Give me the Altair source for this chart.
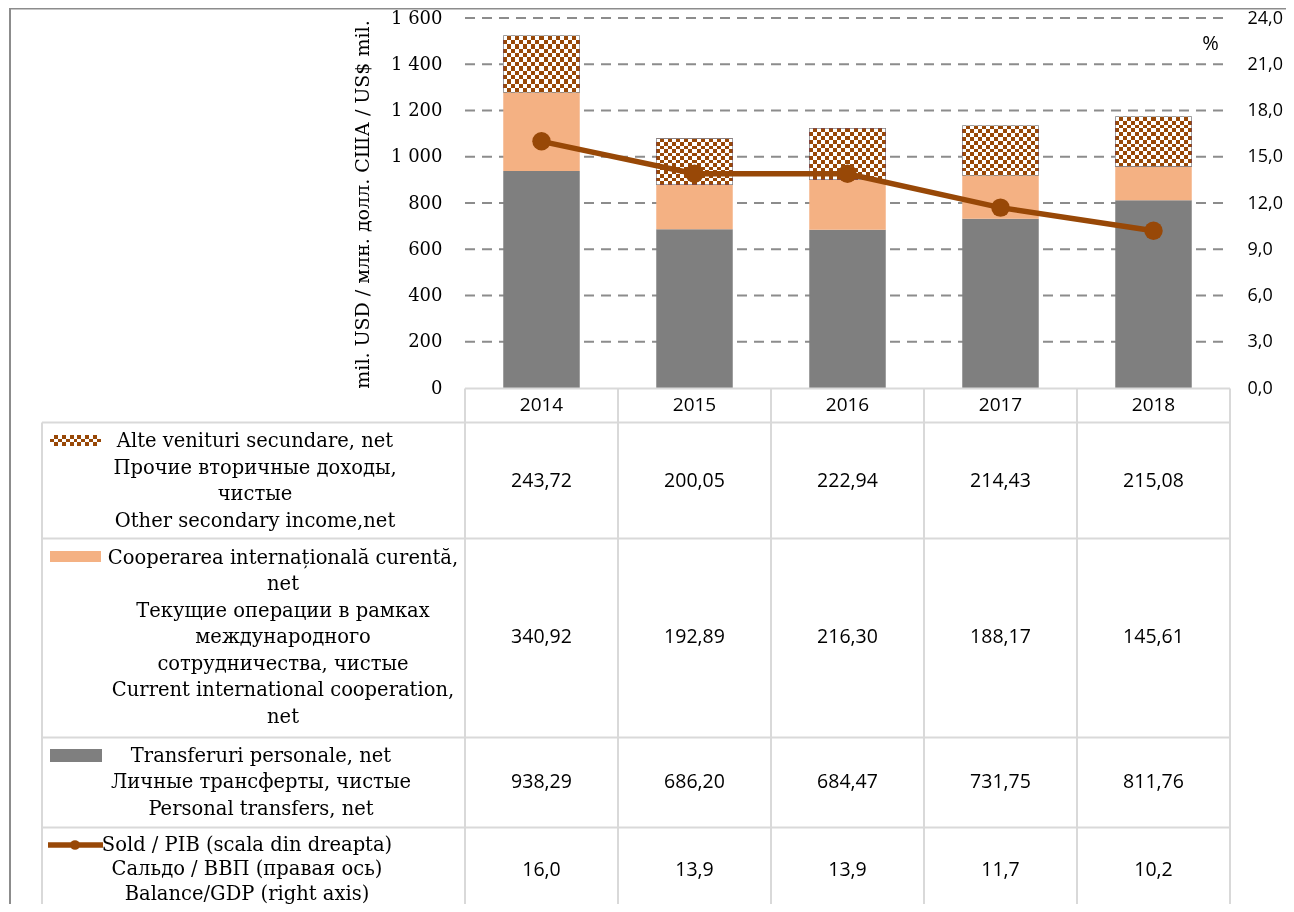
import altair as alt
import pandas as pd

# ---------------- data ----------------
YEARS = ["2014", "2015", "2016", "2017", "2018"]
OTHER_INCOME = [243.72, 200.05, 222.94, 214.43, 215.08]
INTL_COOP = [340.92, 192.89, 216.30, 188.17, 145.61]
PERSONAL = [938.29, 686.20, 684.47, 731.75, 811.76]
BALANCE_GDP = [16.0, 13.9, 13.9, 11.7, 10.2]
LEFT_TICKS = [0, 200, 400, 600, 800, 1000, 1200, 1400, 1600]
RIGHT_TICKS = [0, 3, 6, 9, 12, 15, 18, 21, 24]

LABEL_OTHER = ["Alte venituri secundare, net", "Прочие вторичные доходы,", "чистые",
               "Other secondary income,net"]
LABEL_COOP = ["Cooperarea internațională curentă,", "net", "Текущие операции в рамках",
              "международного", "сотрудничества, чистые", "Current international cooperation,", "net"]
LABEL_PERSONAL = ["Transferuri personale, net", "Личные трансферты, чистые", "Personal transfers, net"]
LABEL_BALANCE = ["Sold / PIB (scala din dreapta)", "Сальдо / ВВП (правая ось)", "Balance/GDP (right axis)"]
Y_TITLE = "mil. USD / млн. долл. США / US$ mil."

# ---------------- style / layout ----------------
GRAY = "#7F7F7F"
PEACH = "#F4B183"
BROWN = "#984807"
GRID = "#8C8C8C"
TABLE = "#D9D9D9"
SERIF = "DejaVu Serif"
SANS = "Open Sans"

W, H = 1278, 896
LH = 26.5


def px(v):  # page pixel -> chart pixel
    return v - 8


X0, X1 = px(465), px(1230)
Y0, Y1 = px(388), px(18)
STEP = (X1 - X0) / len(YEARS)

rows = []
for i, yr in enumerate(YEARS):
    for order, (key, vals) in enumerate([("personal", PERSONAL), ("coop", INTL_COOP), ("other", OTHER_INCOME)]):
        rows.append({"year": yr, "series": key, "order": order, "value": vals[i]})
bars_df = pd.DataFrame(rows)
bal_df = pd.DataFrame({"year": YEARS, "balance": BALANCE_GDP})
grid_df = pd.DataFrame({"v": LEFT_TICKS[1:]})
dummy = pd.DataFrame({"k": [0]})

XS = alt.Scale(type="band", domain=YEARS, range=[X0, X1], paddingInner=0.5, paddingOuter=0.25)
YL = alt.Scale(domain=[0, 1600], range=[Y0, Y1], nice=False, zero=True)
YR = alt.Scale(domain=[0, 24], range=[Y0, Y1], nice=False, zero=True)

LEFT_AXIS = alt.Axis(orient="left", offset=-X0, values=LEFT_TICKS,
                     labelExpr="replace(format(datum.value, ','), ',', ' ')",
                     grid=False, domain=False, ticks=False, labelPadding=23,
                     labelFont=SERIF, labelFontSize=18, labelColor="#000000",
                     title=Y_TITLE, titleFont=SERIF, titleFontSize=19, titleFontWeight="normal",
                     titleColor="#000000", titleAngle=270, titleX=-97, titleY=196,
                     titleBaseline="alphabetic", titleAlign="center")
RIGHT_AXIS = alt.Axis(orient="right", offset=-(W - X1), values=RIGHT_TICKS,
                      labelExpr="replace(format(datum.value, '.1f'), '.', ',')",
                      grid=False, domain=False, ticks=False, labelPadding=17,
                      labelFont=SANS, labelFontSize=18, labelColor="#000000",
                      title="%", titleFont=SANS, titleFontSize=20, titleFontWeight="normal",
                      titleColor="#000000", titleAngle=0, titleX=-20, titleY=35,
                      titleBaseline="middle", titleAlign="center")


def xenc():
    return alt.X("year:N", scale=XS, axis=None)


def stripes(n, c1, c2, horizontal):
    stops = []
    for i in range(n):
        c = c1 if i % 2 == 0 else c2
        stops.append(alt.GradientStop(offset=i / n, color=c))
        stops.append(alt.GradientStop(offset=(i + 1) / n, color=c))
    if horizontal:
        return alt.LinearGradient(gradient="linear", stops=stops, x1=0, x2=0, y1=0, y2=1)
    return alt.LinearGradient(gradient="linear", stops=stops, x1=0, x2=1, y1=0, y2=0)


# ---------------- bars ----------------
stacked = alt.Chart(bars_df).transform_stack(
    stack="value", groupby=["year"], as_=["y0", "y1"],
    sort=[alt.SortField(field="order", order="ascending")])

grid = alt.Chart(grid_df).mark_rule(color=GRID, strokeWidth=2, strokeDash=[10, 7]).encode(
    y=alt.Y("v:Q", scale=YL, axis=LEFT_AXIS), x=alt.value(X0), x2=alt.value(X1))

base_bars = stacked.transform_filter("datum.series != 'other'").mark_bar().encode(
    x=xenc(), y=alt.Y("y0:Q", scale=YL, axis=LEFT_AXIS), y2="y1:Q",
    color=alt.Color("series:N", scale=alt.Scale(domain=["personal", "coop"], range=[GRAY, PEACH]),
                    legend=None))

other = stacked.transform_filter("datum.series == 'other'")
chk_a = other.mark_bar(fill=stripes(19, "#000000", "#ffffff", False)).encode(
    x=xenc(), y=alt.Y("y0:Q", scale=YL, axis=LEFT_AXIS), y2="y1:Q")
chk_b = other.mark_bar(fill=stripes(13, "#ffffff", "#000000", True), blend="difference").encode(
    x=xenc(), y=alt.Y("y0:Q", scale=YL, axis=LEFT_AXIS), y2="y1:Q")
chk_c = other.mark_bar(fill=BROWN, blend="lighten").encode(
    x=xenc(), y=alt.Y("y0:Q", scale=YL, axis=LEFT_AXIS), y2="y1:Q")

left = alt.layer(grid, base_bars, chk_a, chk_b, chk_c)

# ---------------- line ----------------
line = alt.Chart(bal_df).mark_line(color=BROWN, strokeWidth=5.5).encode(
    x=xenc(), y=alt.Y("balance:Q", scale=YR, axis=RIGHT_AXIS))
dots = alt.Chart(bal_df).mark_circle(color=BROWN, size=340, opacity=1).encode(
    x=xenc(), y=alt.Y("balance:Q", scale=YR, axis=RIGHT_AXIS))
right = alt.layer(line, dots)

# ---------------- table ----------------
layers = []
T_TOP, R1, R2, R3, R4, T_BOT = px(388.5), px(422.5), px(538.5), px(737.5), px(827.5), H
for yy in [R1, R2, R3, R4]:
    layers.append(alt.Chart(dummy).mark_rule(color=TABLE, strokeWidth=2).encode(
        x=alt.value(px(42)), x2=alt.value(X1), y=alt.value(yy)))
layers.append(alt.Chart(dummy).mark_rule(color=TABLE, strokeWidth=2).encode(
    x=alt.value(X0), x2=alt.value(X1), y=alt.value(T_TOP)))
layers.append(alt.Chart(dummy).mark_rule(color=TABLE, strokeWidth=2).encode(
    x=alt.value(px(42)), y=alt.value(R1), y2=alt.value(T_BOT)))
for i in range(len(YEARS) + 1):
    layers.append(alt.Chart(dummy).mark_rule(color=TABLE, strokeWidth=2).encode(
        x=alt.value(X0 + i * STEP), y=alt.value(T_TOP), y2=alt.value(T_BOT)))

# outer chart border
layers.append(alt.Chart(dummy).mark_rule(color=GRID, strokeWidth=2).encode(
    x=alt.value(2), y=alt.value(0), y2=alt.value(H)))
layers.append(alt.Chart(dummy).mark_rule(color=GRID, strokeWidth=2).encode(
    x=alt.value(2), x2=alt.value(W), y=alt.value(0.5)))

# header years
layers.append(alt.Chart(bal_df).mark_text(font=SANS, fontSize=19, color="#000000").encode(
    x=xenc(), y=alt.value(px(405)), text="year:N"))

# numbers
row_y = {"other": px(481), "coop": px(637), "personal": px(782)}
for key, yy in row_y.items():
    layers.append(stacked.transform_filter(f"datum.series == '{key}'").transform_calculate(
        lab="replace(format(datum.value, '.2f'), '.', ',')").mark_text(
        font=SANS, fontSize=19.5, color="#000000").encode(x=xenc(), y=alt.value(yy), text="lab:N"))
layers.append(alt.Chart(bal_df).transform_calculate(
    lab="replace(format(datum.balance, '.1f'), '.', ',')").mark_text(
    font=SANS, fontSize=19.5, color="#000000").encode(x=xenc(), y=alt.value(px(870)), text="lab:N"))

# row labels (multi-line, block centred on row)
for lines, cx, cy, lh in [(LABEL_OTHER, 255, 481, LH), (LABEL_COOP, 283, 637, LH),
                          (LABEL_PERSONAL, 261, 782, LH), (LABEL_BALANCE, 247, 869, 24.5)]:
    first = cy - (len(lines) - 1) / 2 * lh
    layers.append(alt.Chart(dummy).mark_text(font=SERIF, fontSize=19.5, lineHeight=lh,
                                             align="center", baseline="middle", color="#000000").encode(
        x=alt.value(px(cx)), y=alt.value(px(first)), text=alt.value(lines)))

# legend keys
sw_x0, sw_x1 = px(50), px(101)
layers.append(alt.Chart(dummy).mark_rect(fill=stripes(13, "#000000", "#ffffff", False)).encode(
    x=alt.value(sw_x0), x2=alt.value(sw_x1), y=alt.value(px(435)), y2=alt.value(px(446))))
layers.append(alt.Chart(dummy).mark_rect(fill=stripes(3, "#ffffff", "#000000", True), blend="difference").encode(
    x=alt.value(sw_x0), x2=alt.value(sw_x1), y=alt.value(px(435)), y2=alt.value(px(446))))
layers.append(alt.Chart(dummy).mark_rect(fill=BROWN, blend="lighten").encode(
    x=alt.value(sw_x0), x2=alt.value(sw_x1), y=alt.value(px(435)), y2=alt.value(px(446))))
layers.append(alt.Chart(dummy).mark_rect(fill=PEACH).encode(
    x=alt.value(sw_x0), x2=alt.value(sw_x1), y=alt.value(px(551)), y2=alt.value(px(562))))
layers.append(alt.Chart(dummy).mark_rect(fill=GRAY).encode(
    x=alt.value(sw_x0), x2=alt.value(px(102)), y=alt.value(px(749)), y2=alt.value(px(762))))
layers.append(alt.Chart(dummy).mark_rule(color=BROWN, strokeWidth=5.5).encode(
    x=alt.value(px(48)), x2=alt.value(px(103)), y=alt.value(px(845))))
layers.append(alt.Chart(dummy).mark_circle(color=BROWN, size=95, opacity=1).encode(
    x=alt.value(px(75)), y=alt.value(px(845))))

chart = alt.layer(left, right, *layers).resolve_scale(y="independent").properties(
    width=W, height=H, autosize=alt.AutoSizeParams(type="none"), padding=0,
    background="#ffffff").configure_view(stroke=None)

chart.save("out.html", embed_options={"renderer": "svg", "actions": False})
